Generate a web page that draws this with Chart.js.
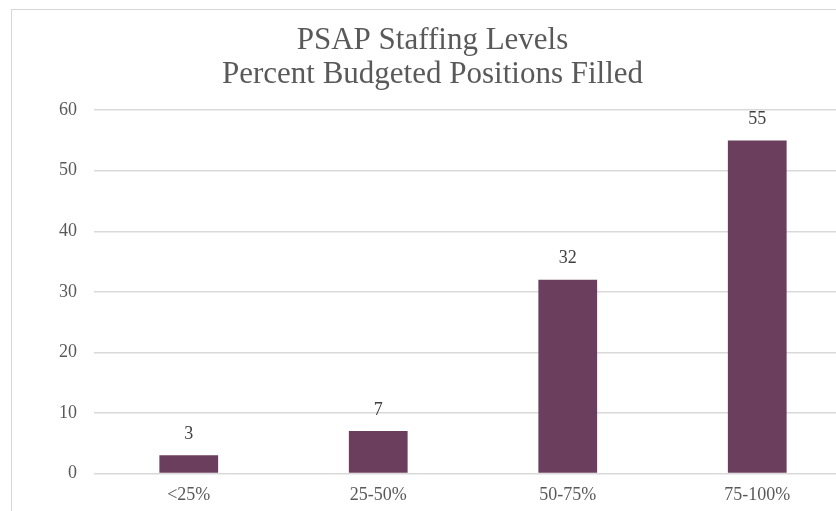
<!DOCTYPE html>
<html>
<head>
<meta charset="utf-8">
<script src="https://cdn.jsdelivr.net/npm/chart.js@4"></script>
<style>
  html, body { margin: 0; padding: 0; background: #fff; overflow: hidden; width: 836px; height: 511px; }
  #box { position: absolute; left: 11px; top: 9px; width: 842px; height: 532px; border: 1.5px solid #d6d6d6; box-sizing: border-box; }
  #wrap { position: absolute; left: 1px; top: 1px; width: 840px; height: 530px; }
</style>
</head>
<body>
<div id="box"><div id="wrap"><canvas id="c"></canvas></div></div>
<script>
const categories = ['<25%', '25-50%', '50-75%', '75-100%'];
const values = [3, 7, 32, 55];
const titleLines = ['PSAP Staffing Levels', 'Percent Budgeted Positions Filled'];
const yTicks = [0, 10, 20, 30, 40, 50, 60];

const labelPlugin = {
  id: 'barLabels',
  afterDatasetsDraw(chart) {
    const ctx = chart.ctx;
    const meta = chart.getDatasetMeta(0);
    ctx.save();
    ctx.font = '18px "Liberation Serif", serif';
    ctx.fillStyle = '#404040';
    ctx.textAlign = 'center';
    ctx.textBaseline = 'middle';
    meta.data.forEach((bar, i) => {
      ctx.fillText(String(values[i]), bar.x, bar.y - 21);
    });
    ctx.restore();
  }
};

new Chart(document.getElementById('c'), {
  type: 'bar',
  data: {
    labels: categories,
    datasets: [{
      data: values,
      backgroundColor: '#6B3E5D',
      borderWidth: 0,
      categoryPercentage: 1.0,
      barPercentage: 0.31
    }]
  },
  options: {
    responsive: true,
    maintainAspectRatio: false,
    animation: false,
    layout: { padding: { left: 0, right: 1, top: 0, bottom: 24 } },
    plugins: {
      legend: { display: false },
      tooltip: { enabled: false },
      title: {
        display: true,
        text: titleLines,
        color: '#595959',
        font: { family: '"Liberation Serif", serif', size: 31, weight: 'normal', lineHeight: 1.1 },
        padding: { top: 13, bottom: 18 }
      }
    },
    scales: {
      x: {
        grid: { display: false, drawTicks: false },
        border: { display: false },
        ticks: {
          color: '#595959',
          font: { family: '"Liberation Serif", serif', size: 18 },
          padding: 11,
          maxRotation: 0
        }
      },
      y: {
        min: 0,
        max: 60,
        afterFit(scale) { scale.width = 81; },
        afterBuildTicks(scale) { scale.ticks = yTicks.map(v => ({ value: v })); },
        grid: { color: '#d9d9d9', lineWidth: 1.5, drawTicks: false },
        border: { display: false },
        ticks: {
          color: '#595959',
          font: { family: '"Liberation Serif", serif', size: 18 },
          padding: 17
        }
      }
    }
  },
  plugins: [labelPlugin]
});
</script>
</body>
</html>
